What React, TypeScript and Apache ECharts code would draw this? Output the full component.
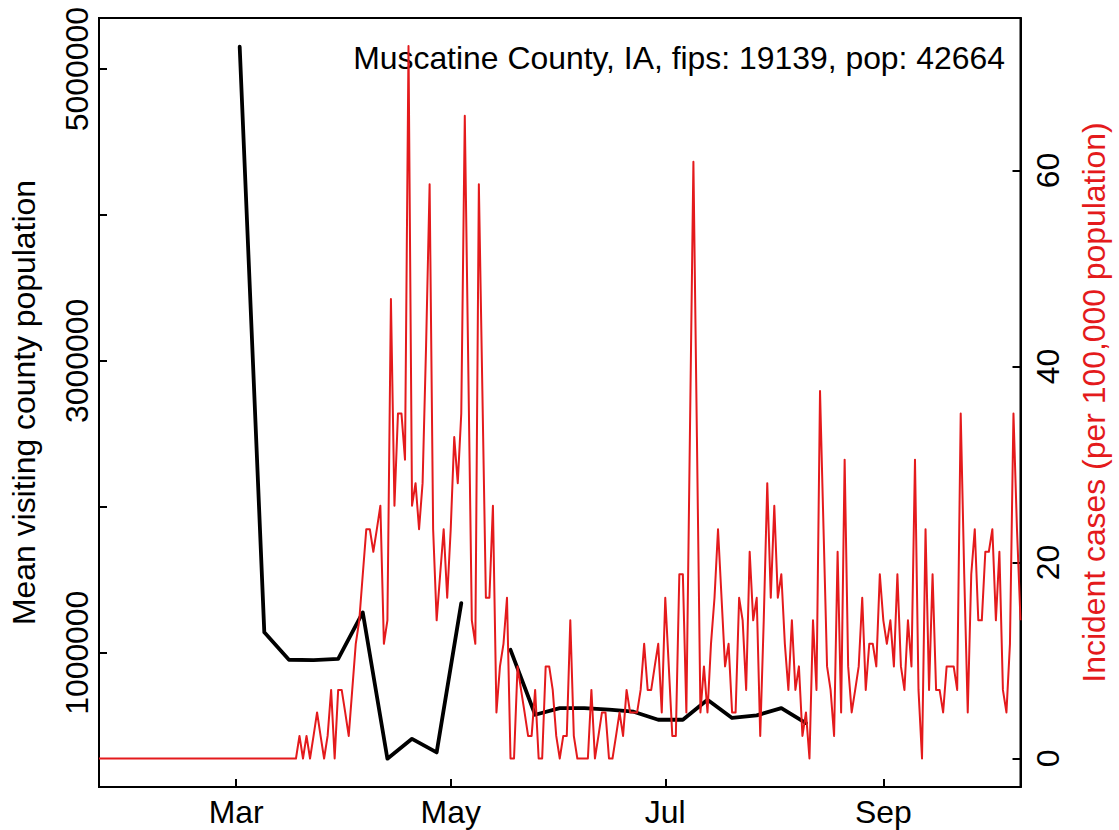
import React, { useEffect, useRef } from "react";
import * as echarts from "echarts";

const countyTitle = "Muscatine County, IA, fips: 19139, pop: 42664";
const leftAxisTitle = "Mean visiting county population";
const rightAxisTitle = "Incident cases (per 100,000 population)";

// daily incident cases per 100,000 population, one value per day from caseStartDate
const caseStartDate = "2020-01-22";
const caseEndDate = "2020-10-10";
const incidentRate = [
  // Jan 22 - Mar 17
  0, 0, 0, 0, 0, 0, 0, 0, 0, 0, 0, 0, 0, 0, 0, 0, 0, 0, 0, 0,
  0, 0, 0, 0, 0, 0, 0, 0, 0, 0, 0, 0, 0, 0, 0, 0, 0, 0, 0, 0,
  0, 0, 0, 0, 0, 0, 0, 0, 0, 0, 0, 0, 0, 0, 0, 0,
  // Mar 18 -
  0, 2.3, 0, 2.3, 0, 2.3, 4.7, 2.3, 0, 2.3, 7, 0, 7, 7,
  4.7, 2.3, 7, 11.7, 14.1, 18.8, 23.4, 23.4, 21.1, 23.4, 25.8, 11.7, 14.1, 46.9,
  25.8, 35.2, 35.2, 30.5, 72.7, 25.8, 28.1, 23.4, 28.1, 42.2, 58.6, 23.4, 14.1, 18.8,
  23.4, 16.4, 23.4, 32.8, 28.1, 35.2, 65.6, 39.8, 14.1, 11.7, 58.6, 37.5, 16.4, 16.4,
  25.8, 4.7, 9.4, 11.7, 16.4, 0, 0, 9.4, 7, 4.7, 2.3, 2.3, 7, 0,
  0, 9.4, 9.4, 7, 2.3, 0, 2.3, 2.3, 14.1, 2.3, 0, 0, 0, 0,
  7, 0, 2.3, 4.7, 4.7, 0, 0, 2.3, 4.7, 2.3, 7, 4.7, 4.7, 4.7,
  7, 11.7, 7, 7, 9.4, 11.7, 4.7, 16.4, 9.4, 2.3, 2.3, 18.8, 18.8, 4.7,
  32.8, 60.9, 32.8, 4.7, 9.4, 4.7, 11.7, 16.4, 23.4, 16.4, 9.4, 11.7, 4.7, 4.7,
  16.4, 14.1, 7, 21.1, 14.1, 16.4, 2.3, 14.1, 28.1, 16.4, 25.8, 16.4, 18.8, 11.7,
  7, 14.1, 7, 9.4, 2.3, 4.7, 0, 14.1, 7, 37.5, 23.4, 9.4, 7, 2.3,
  21.1, 4.7, 30.5, 9.4, 4.7, 7, 9.4, 16.4, 7, 11.7, 11.7, 9.4, 18.8, 14.1,
  11.7, 14.1, 9.4, 18.8, 9.4, 7, 14.1, 9.4, 30.5, 7, 0, 23.4, 7, 18.8,
  7, 7, 4.7, 9.4, 9.4, 9.4, 7, 35.2, 18.8, 4.7, 18.8, 23.4, 14.1, 14.1,
  21.1, 21.1, 23.4, 14.1, 21.1, 7, 4.7, 11.7, 35.2, 23.4, 14.1,
];

// weekly mean visiting county population (null = missing week)
const visitDates = [
  "2020-03-02", "2020-03-09", "2020-03-16", "2020-03-23", "2020-03-30",
  "2020-04-06", "2020-04-13", "2020-04-20", "2020-04-27", "2020-05-04",
  "2020-05-11", "2020-05-18", "2020-05-25", "2020-06-01", "2020-06-08",
  "2020-06-15", "2020-06-22", "2020-06-29", "2020-07-06", "2020-07-13",
  "2020-07-20", "2020-07-27", "2020-08-03", "2020-08-10",
];
const visitPopulation = [
  5153000, 1140000, 952000, 950000, 958000,
  1276000, 274000, 410000, 317000, 1340000,
  null, 1020000, 575000, 621000, 620000,
  610000, 596000, 541000, 541000, 678000,
  553000, 571000, 621000, 518000,
];

const monthTickDates = ["2020-03-01", "2020-05-01", "2020-07-01", "2020-09-01"];
const monthTickLabels = ["Mar", "May", "Jul", "Sep"];
const leftTickValues = [1000000, 2000000, 3000000, 4000000, 5000000];
const leftLabelValues = [1000000, 3000000, 5000000];
const rightTickValues = [0, 20, 40, 60];

const DAY_MS = 86400000;
function dayNum(s: string): number {
  const [y, m, d] = s.split("-").map(Number);
  return Date.UTC(y, m - 1, d) / DAY_MS;
}

const FONT = "'Liberation Sans', Arial, Helvetica, sans-serif";
const FS = 31.9;
const RED = "#E41A1C";

function buildOption() {
  const start = dayNum(caseStartDate);
  const monthDays = monthTickDates.map(dayNum);
  const redData = incidentRate.map((v, i) => [start + i, v]);
  const blackData = visitDates.map((d, i) => [dayNum(d), visitPopulation[i]]);
  const tickLine = { color: "#000", width: 2 };
  return {
    animation: false,
    backgroundColor: "#ffffff",
    textStyle: { fontFamily: FONT },
    grid: {
      left: 99,
      right: 98.5,
      top: 18,
      bottom: 43,
      show: true,
      borderColor: "#000",
      borderWidth: 2,
      backgroundColor: "transparent",
    },
    xAxis: {
      type: "value",
      min: start,
      max: dayNum(caseEndDate),
      splitLine: { show: false },
      axisLine: { show: true, onZero: false, lineStyle: tickLine },
      axisTick: { show: true, inside: true, length: 8, customValues: monthDays, lineStyle: tickLine },
      axisLabel: {
        customValues: monthDays,
        formatter: (v: number) => {
          const k = monthDays.indexOf(Math.round(v));
          return k >= 0 ? monthTickLabels[k] : "";
        },
        fontSize: FS,
        fontFamily: FONT,
        color: "#000",
        margin: 9,
      },
    },
    yAxis: [
      {
        type: "value",
        position: "left",
        min: 80000,
        max: 5350000,
        splitLine: { show: false },
        axisLine: { show: true, lineStyle: tickLine },
        axisTick: { show: true, inside: true, length: 8, customValues: leftTickValues, lineStyle: tickLine },
        axisLabel: {
          customValues: leftLabelValues,
          rotate: 90,
          formatter: (v: number) => String(Math.round(v)),
          fontSize: FS,
          fontFamily: FONT,
          color: "#000",
          margin: 6,
        },
      },
      {
        type: "value",
        position: "right",
        min: -2.91,
        max: 75.57,
        splitLine: { show: false },
        axisLine: { show: true, lineStyle: tickLine },
        axisTick: { show: true, inside: true, length: 8, customValues: rightTickValues, lineStyle: tickLine },
        axisLabel: {
          customValues: rightTickValues,
          rotate: 90,
          formatter: (v: number) => String(Math.round(v)),
          fontSize: FS,
          fontFamily: FONT,
          color: "#000",
          margin: 11,
        },
      },
    ],
    series: [
      {
        type: "line",
        yAxisIndex: 0,
        data: blackData,
        symbol: "none",
        showSymbol: false,
        connectNulls: false,
        silent: true,
        lineStyle: { color: "#000", width: 3.8, cap: "round", join: "round" },
        z: 2,
      },
      {
        type: "line",
        yAxisIndex: 1,
        data: redData,
        symbol: "none",
        showSymbol: false,
        silent: true,
        lineStyle: { color: RED, width: 2, join: "round" },
        z: 3,
      },
    ],
    graphic: [
      {
        type: "text",
        x: 1005,
        y: 58,
        silent: true,
        style: {
          text: countyTitle,
          fontSize: FS,
          fontFamily: FONT,
          fill: "#000",
          textAlign: "right",
          align: "right",
          textVerticalAlign: "middle",
          verticalAlign: "middle",
        },
      },
      {
        type: "text",
        x: 23.5,
        y: 402.5,
        rotation: Math.PI / 2,
        silent: true,
        style: {
          text: leftAxisTitle,
          fontSize: FS,
          fontFamily: FONT,
          fill: "#000",
          textAlign: "center",
          align: "center",
          textVerticalAlign: "middle",
          verticalAlign: "middle",
        },
      },
      {
        type: "text",
        x: 1094,
        y: 402.5,
        rotation: Math.PI / 2,
        silent: true,
        style: {
          text: rightAxisTitle,
          fontSize: FS,
          fontFamily: FONT,
          fill: RED,
          textAlign: "center",
          align: "center",
          textVerticalAlign: "middle",
          verticalAlign: "middle",
        },
      },
    ],
  };
}

export default function App() {
  const ref = useRef<HTMLDivElement>(null);
  useEffect(() => {
    document.body.style.margin = "0";
    const chart = echarts.init(ref.current as HTMLDivElement, null, { renderer: "svg" });
    chart.setOption(buildOption() as any);
    return () => chart.dispose();
  }, []);
  return <div ref={ref} style={{ width: 1119, height: 830 }} />;
}
